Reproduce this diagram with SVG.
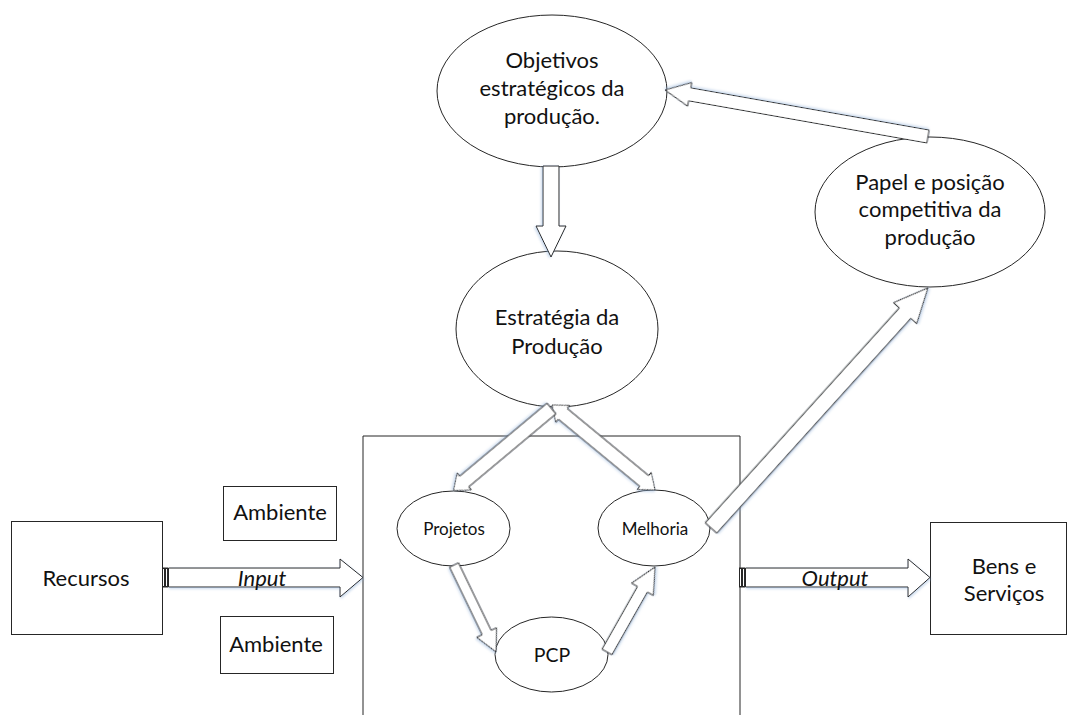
<svg xmlns="http://www.w3.org/2000/svg" width="1069" height="715" viewBox="0 0 1069 715">
<defs>
<filter id="sh" x="-10%" y="-10%" width="120%" height="120%">
<feDropShadow dx="1" dy="1.5" stdDeviation="1" flood-color="#8fb0d8" flood-opacity="0.45"/>
</filter>
<style>
.n{fill:#fff;stroke:#262626;stroke-width:1}
.a{fill:#fff;stroke:#262626;stroke-width:1;stroke-linejoin:miter;filter:url(#sh)}
.t{font-family:Lato,"Liberation Sans",sans-serif;fill:#111;text-anchor:middle}
.s20{font-size:22px}
.s16{font-size:17px}
.s22{font-size:19.5px}
.i{font-style:italic}
</style>
</defs>
<rect width="1069" height="715" fill="#fff"/>

<g id="processo"><path d="M363,716 V436 H740 V716" fill="none" stroke="#262626" stroke-width="1"/></g>

<g id="recursos"><rect class="n" x="11.5" y="521.5" width="151" height="113"/><text class="t s20" x="86" y="586">Recursos</text></g>
<g id="ambiente1"><rect class="n" x="223.5" y="486.5" width="113" height="54"/><text class="t s20" x="280" y="520">Ambiente</text></g>
<g id="ambiente2"><rect class="n" x="220.5" y="616.5" width="113" height="57"/><text class="t s20" x="276" y="652">Ambiente</text></g>
<g id="bens"><rect class="n" x="930.5" y="522.5" width="136" height="112"/><text class="t s20" x="1004" y="574">Bens e</text><text class="t s20" x="1004" y="601">Serviços</text></g>

<g id="objetivos"><ellipse class="n" cx="552" cy="91" rx="115" ry="76"/><text class="t s20" x="552" y="68">Objetivos</text><text class="t s20" x="552" y="96">estratégicos da</text><text class="t s20" x="552" y="124">produção.</text></g>
<g id="papel"><ellipse class="n" cx="930" cy="212" rx="115" ry="75"/><text class="t s20" x="930" y="190">Papel e posição</text><text class="t s20" x="930" y="217">competitiva da</text><text class="t s20" x="930" y="245">produção</text></g>
<g id="estrategia"><ellipse class="n" cx="557" cy="329" rx="101" ry="78"/><text class="t s20" x="557" y="325">Estratégia da</text><text class="t s20" x="557" y="354">Produção</text></g>
<g id="projetos"><ellipse class="n" cx="453.5" cy="528.5" rx="56.5" ry="37.5"/><text class="t s16" x="454" y="535">Projetos</text></g>
<g id="melhoria"><ellipse class="n" cx="654" cy="528" rx="56" ry="38"/><text class="t s16" x="655" y="535">Melhoria</text></g>
<g id="pcp"><ellipse class="n" cx="551.5" cy="654.5" rx="56.5" ry="37.5"/><text class="t s22" x="552" y="662">PCP</text></g>

<g id="conectores">
<path class="a" transform="translate(928,136.5) rotate(190.03)" d="M0,-6.5 H242 V-12 L267,0 L242,12 V6.5 H0 Z"/>
<path class="a" transform="translate(711,528) rotate(-47.9)" d="M0,-7.8 H289.6 V-15.6 L323.6,0 L289.6,15.6 V7.8 H0 Z"/>
<path class="a" transform="translate(551,166) rotate(90)" d="M0,-8 H60 V-15 L91,0 L60,15 V8 H0 Z"/>
<path class="a" transform="translate(552,405) rotate(39.5)" d="M0,0 L14,-11 V-7 H119.5 V-11 L133.5,0 L119.5,11 V7 H14 V11 Z"/>
<path class="a" transform="translate(551.5,408.5) rotate(140.1)" d="M0,-7 H113.8 V-11 L127.8,0 L113.8,11 V7 H0 Z"/>
<path class="a" transform="translate(454,565) rotate(64.2)" d="M0,-5 H75 V-11 L96.6,0 L75,11 V5 H0 Z"/>
<path class="a" transform="translate(607,652) rotate(-60.5)" d="M0,-5.7 H72 V-12.5 L97.6,0 L72,12.5 V5.7 H0 Z"/>
<g id="input">
<rect class="n" x="162.5" y="568" width="2" height="19"/><rect class="n" x="165.5" y="568" width="2" height="19"/>
<path class="a" d="M168.5,568 H340 V559 L363,577.5 L340,597 V587 H168.5 Z"/>
<text class="t s20 i" x="262" y="586">Input</text>
</g>
<g id="output">
<rect class="n" x="739.5" y="568" width="2" height="19"/><rect class="n" x="742.5" y="568" width="2" height="19"/>
<path class="a" d="M745.5,568 H908 V559 L930,577.5 L908,597 V587 H745.5 Z"/>
<text class="t s20 i" x="835" y="586">Output</text>
</g>
</g>
</svg>
